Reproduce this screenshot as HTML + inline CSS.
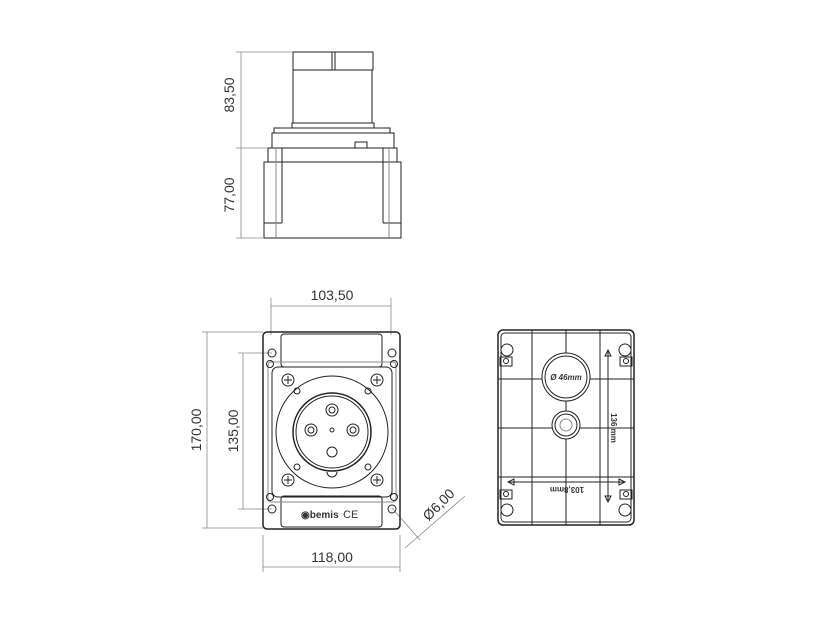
<!DOCTYPE html>
<html><head><meta charset="utf-8"><style>
html,body{margin:0;padding:0;background:#fff;width:825px;height:625px;overflow:hidden}
svg{display:block}
text{font-family:"Liberation Sans",sans-serif;fill:#333}
</style></head><body>
<svg width="825" height="625" viewBox="0 0 825 625" xmlns="http://www.w3.org/2000/svg">
<g fill="none" stroke="#222" stroke-width="1">
<rect x="293" y="52" width="80" height="18"/>
<rect x="293" y="70" width="79" height="53"/>
<line x1="332" y1="52" x2="332" y2="70"/><line x1="335" y1="52" x2="335" y2="70"/>
<rect x="292" y="123" width="82" height="5"/>
<rect x="274" y="128" width="116" height="5"/>
<rect x="272" y="133" width="122" height="15"/>
<rect x="268" y="148" width="129" height="14"/>
<rect x="264" y="162" width="137" height="76"/>
<line x1="282" y1="148" x2="282" y2="223"/><line x1="264" y1="223" x2="282" y2="223"/>
<line x1="383" y1="148" x2="383" y2="223"/><line x1="383" y1="223" x2="401" y2="223"/>
<line x1="276" y1="148" x2="276" y2="238" stroke="#888"/>
<line x1="389" y1="148" x2="389" y2="238" stroke="#888"/>
<rect x="355" y="142" width="12" height="6"/>
</g>
<g stroke="#888" stroke-width="0.8" fill="none">
<line x1="241" y1="52" x2="241" y2="238"/>
<line x1="236" y1="52" x2="293" y2="52"/>
<line x1="236" y1="148" x2="268" y2="148"/>
<line x1="236" y1="238" x2="264" y2="238"/>
</g>
<text transform="translate(234,95) rotate(-90)" font-size="14" text-anchor="middle">83,50</text>
<text transform="translate(234,195) rotate(-90)" font-size="14" text-anchor="middle">77,00</text>

<g stroke="#888" stroke-width="0.8" fill="none">
<line x1="271" y1="306" x2="391" y2="306"/>
<line x1="271" y1="298" x2="271" y2="335"/><line x1="391" y1="298" x2="391" y2="335"/>
<line x1="207" y1="332" x2="207" y2="528"/>
<line x1="202" y1="332" x2="263" y2="332"/><line x1="202" y1="528" x2="263" y2="528"/>
<line x1="243" y1="353" x2="243" y2="509"/>
<line x1="238" y1="353" x2="272" y2="353"/><line x1="238" y1="509" x2="272" y2="509"/>
<line x1="263" y1="567" x2="400" y2="567"/>
<line x1="263" y1="535" x2="263" y2="572"/><line x1="400" y1="535" x2="400" y2="572"/>
<line x1="392" y1="508" x2="420" y2="540"/>
<line x1="405" y1="548" x2="465" y2="496"/>
</g>
<text x="332" y="300" font-size="14" text-anchor="middle">103,50</text>
<text transform="translate(201,430) rotate(-90)" font-size="14" text-anchor="middle">170,00</text>
<text transform="translate(238,431) rotate(-90)" font-size="14" text-anchor="middle">135,00</text>
<text x="332" y="562" font-size="14" text-anchor="middle">118,00</text>
<text transform="translate(442,508) rotate(-45)" font-size="14" text-anchor="middle">Ø6,00</text>
<g fill="none" stroke="#222" stroke-width="1">
<rect x="263" y="332" width="137" height="197" rx="4" stroke-width="1.5"/>
<rect x="281" y="334" width="101" height="33" rx="3"/>
<rect x="281" y="496" width="101" height="31" rx="3"/>
<rect x="272" y="367" width="120" height="130" rx="6"/>
<rect x="268" y="362" width="128" height="140" rx="3" stroke="#888"/>
<circle cx="272" cy="353" r="4"/><circle cx="392" cy="353" r="4"/>
<circle cx="272" cy="509" r="4"/><circle cx="392" cy="509" r="4"/>
<circle cx="270" cy="364" r="3.5"/><circle cx="394" cy="364" r="3.5"/>
<circle cx="270" cy="497" r="3.5"/><circle cx="394" cy="497" r="3.5"/>
<circle cx="332" cy="432" r="56"/>
<circle cx="332" cy="432" r="39" stroke-width="1.5"/>
<circle cx="332" cy="432" r="36"/>
<circle cx="332" cy="410" r="6"/><circle cx="332" cy="410" r="3"/>
<circle cx="311" cy="430" r="6"/><circle cx="311" cy="430" r="3"/>
<circle cx="353" cy="430" r="6"/><circle cx="353" cy="430" r="3"/>
<circle cx="332" cy="452" r="5"/>
<circle cx="332" cy="430" r="2"/>
<circle cx="297" cy="391" r="3"/><circle cx="368" cy="391" r="3"/>
<circle cx="297" cy="467" r="3"/><circle cx="368" cy="467" r="3"/>
<path d="M327 472 a5 5 0 0 0 10 0"/>
</g>
<g fill="none" stroke="#222" stroke-width="1">
<circle cx="288" cy="380" r="6"/><path d="M284 380h8M288 376v8"/>
<circle cx="377" cy="380" r="6"/><path d="M373 380h8M377 376v8"/>
<circle cx="288" cy="480" r="6"/><path d="M284 480h8M288 476v8"/>
<circle cx="377" cy="480" r="6"/><path d="M373 480h8M377 476v8"/>
</g>
<text x="301" y="518" font-size="10" font-weight="bold" font-family="Liberation Serif">◉bemis</text>
<text x="343" y="518" font-size="11">CE</text>

<g fill="none" stroke="#222" stroke-width="1">
<rect x="498" y="330" width="136" height="195" rx="5" stroke-width="1.5"/>
<rect x="501" y="333" width="130" height="189" rx="4"/>
<path d="M532 330V525M566 330V353M566 401V411M566 439V525M600 330V525"/>
<path d="M498 379H542M590 379H634M498 428H552M580 428H634M498 477H634"/>
<circle cx="566" cy="377" r="24"/><circle cx="566" cy="377" r="21"/>
<circle cx="566" cy="425" r="14"/><circle cx="566" cy="425" r="11"/><circle cx="566" cy="425" r="6" stroke="#888"/>
<circle cx="507" cy="350" r="6"/><rect x="500" y="357" width="12" height="9"/><circle cx="506" cy="361" r="2.5"/>
<circle cx="625" cy="350" r="6"/><rect x="620" y="357" width="12" height="9"/><circle cx="626" cy="361" r="2.5"/>
<circle cx="507" cy="510" r="6"/><rect x="500" y="490" width="12" height="9"/><circle cx="506" cy="494" r="2.5"/>
<circle cx="625" cy="510" r="6"/><rect x="620" y="490" width="12" height="9"/><circle cx="626" cy="494" r="2.5"/>
<line x1="608" y1="350" x2="608" y2="502"/>
<path d="M605 356l3-6 3 6zM605 496l3 6 3-6z"/>
<line x1="508" y1="482" x2="625" y2="482"/>
<path d="M514 479l-6 3 6 3zM619 479l6 3-6 3z"/>
</g>
<text x="566" y="380" font-size="8" font-weight="bold" font-style="italic" text-anchor="middle">Ø 46mm</text>
<text transform="translate(611,428) rotate(90)" font-size="8" font-weight="bold" text-anchor="middle">136 mm</text>
<text transform="translate(567,487) rotate(180)" font-size="8" font-weight="bold" text-anchor="middle">103,8mm</text>
</svg>
</body></html>
